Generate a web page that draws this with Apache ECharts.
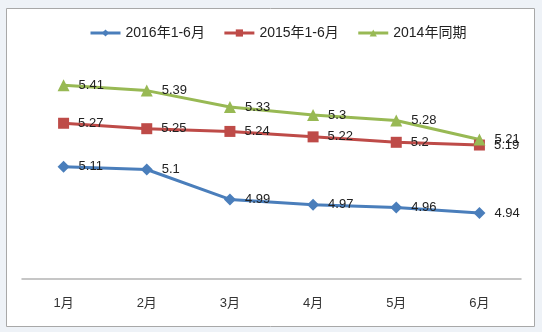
<!DOCTYPE html>
<html>
<head>
<meta charset="utf-8">
<script src="https://cdn.jsdelivr.net/npm/echarts@6/dist/echarts.min.js"></script>
<style>
  html, body { margin: 0; padding: 0; background: #eef2f7; }
  #chart { width: 542px; height: 332px; }
</style>
</head>
<body>
<div id="chart"></div>
<script>
// Monthly values, Jan–Jun
const months = ['1月', '2月', '3月', '4月', '5月', '6月'];
const seriesNames = ['2016年1-6月', '2015年1-6月', '2014年同期'];
const values2016 = [5.11, 5.1, 4.99, 4.97, 4.96, 4.94];
const values2015 = [5.27, 5.25, 5.24, 5.22, 5.2, 5.19];
const values2014 = [5.41, 5.39, 5.33, 5.3, 5.28, 5.21];

const colors = ['#4a7ebb', '#be4b48', '#98b954'];
const symbols = ['diamond', 'rect', 'triangle'];
const symbolSizes = [12, 11, 12];
const dataSets = [values2016, values2015, values2014];

const fontFamily = '"Liberation Sans", "Noto Sans CJK SC", sans-serif';

const chart = echarts.init(document.getElementById('chart'));

chart.setOption({
  animation: false,
  backgroundColor: 'transparent',
  graphic: [{
    type: 'rect',
    z: -10,
    shape: { x: 6.5, y: 8.5, width: 528, height: 318 },
    style: { fill: '#ffffff', stroke: '#a8a8a8', lineWidth: 1 }
  }],
  color: colors,
  legend: {
    top: 21,
    left: 84,
    itemWidth: 30,
    itemHeight: 9,
    itemGap: 18,
    lineStyle: { width: 3 },
    textStyle: { fontFamily: fontFamily, fontSize: 14, color: '#222' },
    data: seriesNames
  },
  grid: { left: 22, right: 21, top: 33.5, bottom: 53.7 },
  xAxis: {
    type: 'category',
    data: months,
    boundaryGap: true,
    axisLine: { lineStyle: { color: '#b4b4b4', width: 1.5 } },
    axisTick: { show: false },
    axisLabel: { fontFamily: fontFamily, fontSize: 13, color: '#333', margin: 19 }
  },
  yAxis: {
    type: 'value',
    min: 4.7,
    max: 5.6,
    show: false,
    splitLine: { show: false }
  },
  series: dataSets.map((d, i) => ({
    name: seriesNames[i],
    type: 'line',
    data: d,
    symbol: symbols[i],
    symbolSize: symbolSizes[i],
    lineStyle: { width: 3, color: colors[i] },
    itemStyle: { color: colors[i] },
    label: {
      show: true,
      position: 'right',
      distance: 9,
      fontFamily: fontFamily,
      fontSize: 13,
      color: '#222'
    }
  }))
});
</script>
</body>
</html>
